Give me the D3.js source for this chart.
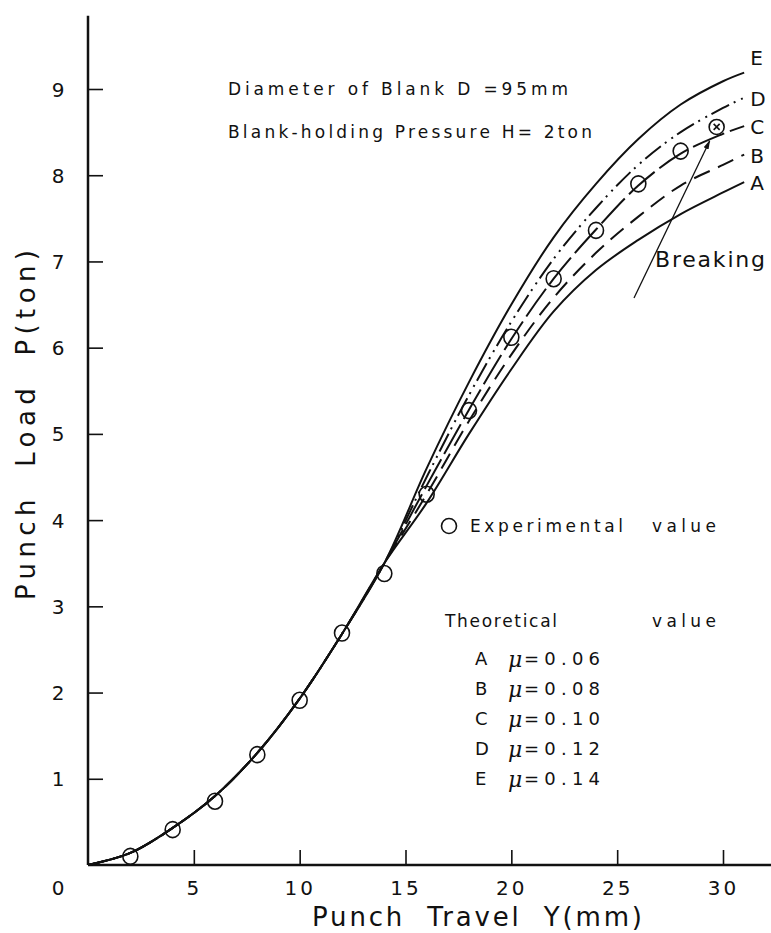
<!DOCTYPE html>
<html>
<head>
<meta charset="utf-8">
<script src="https://cdn.jsdelivr.net/npm/d3@7"></script>
<style>
  body { margin: 0; background: #fff; }
  text { font-family: "DejaVu Sans", sans-serif; fill: #111; }
</style>
</head>
<body>
<div id="chart"></div>
<script>
// Punch travel (mm) where the theoretical curves were read
var travel = [0, 2, 4, 6, 8, 10, 12, 14, 16, 18, 20, 22, 24, 26, 28, 30, 31];
// Theoretical punch load (ton), one array per friction coefficient
var loadA = [0, 0.14, 0.43, 0.8, 1.3, 1.93, 2.68, 3.5, 4.2, 5.0, 5.75, 6.42, 6.9, 7.25, 7.55, 7.8, 7.92];
var loadB = [0, 0.14, 0.43, 0.8, 1.3, 1.93, 2.68, 3.5, 4.3, 5.15, 5.92, 6.58, 7.1, 7.52, 7.88, 8.12, 8.24];
var loadC = [0, 0.14, 0.43, 0.8, 1.3, 1.93, 2.68, 3.5, 4.4, 5.28, 6.1, 6.8, 7.37, 7.88, 8.25, 8.48, 8.57];
var loadD = [0, 0.14, 0.43, 0.8, 1.3, 1.93, 2.68, 3.5, 4.5, 5.45, 6.3, 7.03, 7.62, 8.12, 8.5, 8.78, 8.9];
var loadE = [0, 0.14, 0.43, 0.8, 1.3, 1.93, 2.68, 3.5, 4.6, 5.6, 6.5, 7.28, 7.9, 8.42, 8.82, 9.09, 9.19];
var curveNames = ["A", "B", "C", "D", "E"];
var mu = ["0.06", "0.08", "0.10", "0.12", "0.14"];

// Experimental values
var expTravel = [2, 4, 6, 8, 10, 12, 14, 16, 18, 20, 22, 24, 26, 28];
var expLoad = [0.1, 0.41, 0.74, 1.28, 1.91, 2.69, 3.38, 4.3, 5.27, 6.12, 6.8, 7.36, 7.9, 8.28];
var breakTravel = 29.7, breakLoad = 8.56;

var xTicks = [5, 10, 15, 20, 25, 30];
var yTicks = [1, 2, 3, 4, 5, 6, 7, 8, 9];

var width = 771, height = 933;
var svg = d3.select("#chart").append("svg")
    .attr("width", width)
    .attr("height", height);

var x = d3.scaleLinear().domain([0, 30]).range([88, 723]);
var y = d3.scaleLinear().domain([0, 9]).range([865, 89]);

// axes lines
svg.append("line")
    .attr("x1", x(0)).attr("x2", width)
    .attr("y1", y(0)).attr("y2", y(0))
    .style("stroke", "#111").style("stroke-width", 2.5);
svg.append("line")
    .attr("x1", x(0)).attr("x2", x(0))
    .attr("y1", y(0)).attr("y2", y(9.85))
    .style("stroke", "#111").style("stroke-width", 2.5);

// ticks point inward
var xAxis = svg.append("g")
    .attr("transform", "translate(0," + y(0) + ")")
    .call(d3.axisBottom(x).tickValues(xTicks).tickSize(-15).tickSizeOuter(0));
xAxis.select(".domain").remove();
xAxis.selectAll("line").style("stroke", "#111").style("stroke-width", 1.6);
xAxis.selectAll("text")
    .attr("y", 30).attr("dy", 0)
    .style("font-size", "20px").style("letter-spacing", "3px").style("fill", "#111");

var yAxis = svg.append("g")
    .attr("transform", "translate(" + x(0) + ",0)")
    .call(d3.axisLeft(y).tickValues(yTicks).tickSize(-15).tickSizeOuter(0));
yAxis.select(".domain").remove();
yAxis.selectAll("line").style("stroke", "#111").style("stroke-width", 1.6);
yAxis.selectAll("text")
    .attr("x", -30).attr("dy", 7)
    .attr("text-anchor", "middle")
    .style("font-size", "20px").style("fill", "#111");

svg.append("text")
    .attr("x", 58).attr("y", 895)
    .attr("text-anchor", "middle")
    .style("font-size", "20px")
    .text("0");

// axis titles
svg.append("text")
    .attr("x", 312).attr("y", 926)
    .attr("textLength", 330).attr("lengthAdjust", "spacing")
    .style("font-size", "26px")
    .style("white-space", "pre")
    .text("Punch  Travel  Y(mm)");
svg.append("text")
    .attr("transform", "translate(35,600) rotate(-90)")
    .attr("textLength", 350).attr("lengthAdjust", "spacing")
    .style("font-size", "26px")
    .style("white-space", "pre")
    .text("Punch  Load  P(ton)");

// theoretical curves
var line = d3.line()
    .x(function(d){ return x(d[0]); })
    .y(function(d){ return y(d[1]); })
    .curve(d3.curveCatmullRom);

var loads = [loadA, loadB, loadC, loadD, loadE];
var dashes = [null, "17,9", "34,6", "20,5,2,6,2,5", null];
loads.forEach(function(load, k){
    var pts = travel.map(function(t, i){ return [t, load[i]]; });
    svg.append("path")
        .datum(pts)
        .attr("d", line)
        .style("fill", "none")
        .style("stroke", "#111")
        .style("stroke-width", 2)
        .style("stroke-dasharray", dashes[k]);
    var last = pts[pts.length - 1];
    svg.append("text")
        .attr("x", x(last[0]) + 6)
        .attr("y", y(last[1]) + (k == 4 ? -8 : 8))
        .style("font-size", "20px")
        .text(curveNames[k]);
});

// experimental circles
svg.selectAll(".exp")
    .data(expTravel)
    .enter()
    .append("ellipse")
    .attr("class", "exp")
    .attr("cx", function(d){ return x(d); })
    .attr("cy", function(d, i){ return y(expLoad[i]); })
    .attr("rx", 7.5).attr("ry", 8)
    .style("fill", "none")
    .style("stroke", "#111")
    .style("stroke-width", 1.6);

// breaking point
var bx = x(breakTravel), by = y(breakLoad);
svg.append("circle")
    .attr("cx", bx).attr("cy", by).attr("r", 7.5)
    .style("fill", "#fff").style("stroke", "#111").style("stroke-width", 1.6);
svg.append("path")
    .attr("d", "M" + (bx - 3) + "," + (by - 3) + "L" + (bx + 3) + "," + (by + 3) +
               "M" + (bx + 3) + "," + (by - 3) + "L" + (bx - 3) + "," + (by + 3))
    .style("stroke", "#111").style("stroke-width", 1.6);

// Breaking arrow
svg.append("defs").append("marker")
    .attr("id", "arrow")
    .attr("viewBox", "0 0 10 10")
    .attr("refX", 9).attr("refY", 5)
    .attr("markerWidth", 7).attr("markerHeight", 7)
    .attr("orient", "auto")
    .append("path")
    .attr("d", "M0,2L10,5L0,8Z")
    .style("fill", "#111");
svg.append("line")
    .attr("x1", 634).attr("y1", 298)
    .attr("x2", bx - 7).attr("y2", by + 14)
    .style("stroke", "#111").style("stroke-width", 1.3)
    .attr("marker-end", "url(#arrow)");
svg.append("text")
    .attr("x", 655).attr("y", 267)
    .attr("textLength", 110).attr("lengthAdjust", "spacing")
    .style("font-size", "22px")
    .text("Breaking");

// annotations
svg.append("text")
    .attr("x", 228).attr("y", 95)
    .attr("textLength", 340).attr("lengthAdjust", "spacing")
    .style("font-size", "17px")
    .text("Diameter of Blank D =95mm");
svg.append("text")
    .attr("x", 228).attr("y", 138)
    .attr("textLength", 364).attr("lengthAdjust", "spacing")
    .style("font-size", "17px")
    .text("Blank-holding Pressure H= 2ton");

svg.append("ellipse")
    .attr("cx", 449).attr("cy", 526).attr("rx", 7.5).attr("ry", 7.5)
    .style("fill", "none").style("stroke", "#111").style("stroke-width", 1.6);
svg.append("text")
    .attr("x", 470).attr("y", 532)
    .attr("textLength", 153).attr("lengthAdjust", "spacing")
    .style("font-size", "17px")
    .text("Experimental");
svg.append("text")
    .attr("x", 652).attr("y", 532)
    .attr("textLength", 64).attr("lengthAdjust", "spacing")
    .style("font-size", "17px")
    .text("value");

svg.append("text")
    .attr("x", 445).attr("y", 627)
    .attr("textLength", 112).attr("lengthAdjust", "spacing")
    .style("font-size", "17px")
    .text("Theoretical");
svg.append("text")
    .attr("x", 652).attr("y", 627)
    .attr("textLength", 64).attr("lengthAdjust", "spacing")
    .style("font-size", "17px")
    .text("value");

curveNames.forEach(function(n, i){
    var ly = 665 + i * 30;
    svg.append("text")
        .attr("x", 475).attr("y", ly)
        .style("font-size", "18px")
        .text(n);
    svg.append("text")
        .attr("x", 508).attr("y", ly + 2)
        .style("font-family", "DejaVu Serif, serif")
        .style("font-style", "italic")
        .style("font-size", "22px")
        .text("\u03bc");
    svg.append("text")
        .attr("x", 524).attr("y", ly)
        .attr("textLength", 76).attr("lengthAdjust", "spacing")
        .style("font-size", "18px")
        .text("=" + mu[i]);
});
</script>
</body>
</html>
